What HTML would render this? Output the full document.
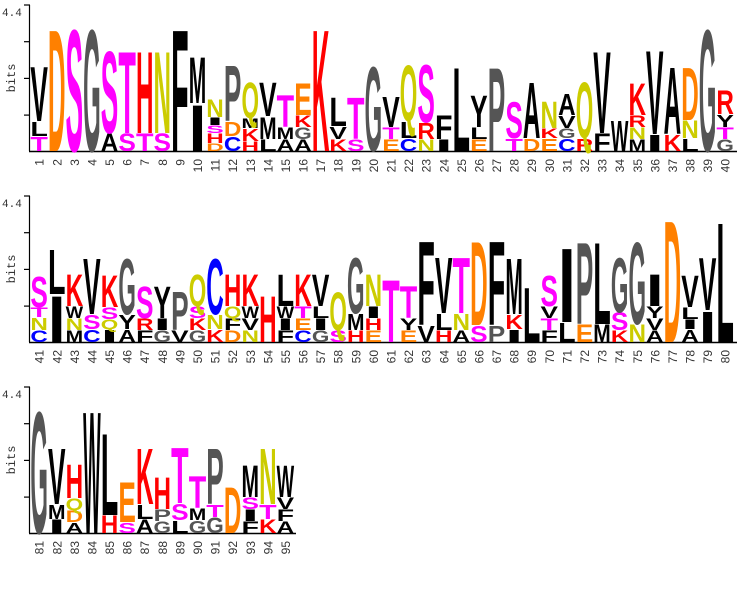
<!DOCTYPE html>
<html><head><meta charset="utf-8"><style>
html,body{margin:0;padding:0;background:#fff;}
svg{display:block;}
</style></head><body>
<svg id="s" width="737" height="599" xmlns="http://www.w3.org/2000/svg"></svg>
<script>
(function(){
var D=[
"T15 L15 V57","D127","S127","G127","A18 S85","S18 T85","T18 H85","S18 N85","F127","I48 M48",
"D8 H10 S8 I8 N18","C15 D15 P58","H10 K13 M10 Q37","L12 M23 V35","A12 M12 T33","A12 G12 K12 E33","K127","K12 V13 L30","S12 T43","G88",
"E12 T12 V32","C13 L17 Q58","N12 R17 S60","I12 F25","L87","E12 L12 Y33","P87","T13 S38","D13 A58","E13 K10 N28",
"C13 G10 V13 A22","R13 Q58","F18 V85","W32","M12 N12 R12 K33","I17 V87","K17 A70","L13 N18 D55","G127","G12 T12 Y13 R25",
"C12 N13 T10 S32","I48 L47","M12 N12 W12 K33","C13 S15 V58","I13 Q10 S12 K33","A13 Y15 G58","F12 R12 S33","G12 I12 Y33","V12 P40","G12 K12 S12 Q33",
"K13 N15 C58","D12 F12 Q12 H33","N12 V12 W12 K33","H48","F12 I12 W12 L33","C12 E12 T12 K33","G12 I12 L12 V33","S12 Q40","H12 M17 G58","E12 H12 I12 N33",
"T65","E12 Y12 T33","V17 F87","H12 L17 V58","A12 N17 T58","S17 D87","P17 F87","I13 K15 M58","L57","F12 T12 V12 S32",
"L20 I77","E18 P85","M18 L85","K12 S18 G57","N18 G85","A12 V12 Y12 I33","D127","A13 I10 L12 V33","I32 V55","L125",
"G127","I14 M15 V58","A11 D12 Q12 H35","W127","H18 L85","S11 E42","A14 L15 K58","G12 P12 H33","L13 S17 T58","G13 M12 T33",
"G16 T13 P58","D48","F12 I12 S12 M33","K14 T15 N58","A12 F12 V12 W33"];
var C={D:"#ff8000",E:"#ff8000",S:"#ff00ff",T:"#ff00ff",H:"#ff0000",K:"#ff0000",R:"#ff0000",N:"#cccc00",Q:"#cccc00",G:"#555555",P:"#555555",C:"#0000ff"};
var h='';
var bases=[151,342,533];
for(var r=0;r<3;r++){
 var b=bases[r],tp=b-146;
 var n=r<2?40:15;
 var xe=r<2?737:296;
 h+='<line x1="29.5" y1="'+tp+'" x2="29.5" y2="'+b+'" stroke="#000" stroke-width="1.2"/>';
 h+='<line x1="29" y1="'+(b+0.5)+'" x2="'+xe+'" y2="'+(b+0.5)+'" stroke="#000" stroke-width="1.4"/>';
 for(var k=0;k<4;k++){var ty=tp+k*36.7;h+='<line x1="24" y1="'+ty+'" x2="30" y2="'+ty+'" stroke="#000" stroke-width="1.2"/>';}
 h+='<text x="2" y="'+(tp+11)+'" font-family="Liberation Mono,monospace" font-size="11" fill="#333">4.4</text>';
 h+='<text transform="translate(15,'+(b-73)+') rotate(-90)" text-anchor="middle" font-family="Liberation Mono,monospace" font-size="12" fill="#333">bits</text>';
 for(var i=0;i<n;i++){
  var idx=r*40+i, x0=30.4+i*17.59;
  var parts=D[idx].split(' '), y=b;
  for(var p=0;p<parts.length;p++){
   var L=parts[p][0], ht=parseFloat(parts[p].slice(1));
   var col=C[L]||"#000";
   h+='<text transform="translate('+x0.toFixed(2)+','+y.toFixed(2)+') scale('+(17.5/100).toFixed(4)+','+(ht/72.9).toFixed(4)+')" textLength="100" lengthAdjust="spacingAndGlyphs" font-family="Liberation Sans,sans-serif" font-weight="bold" font-size="100" fill="'+col+'">'+L+'</text>';
   y-=ht;
  }
  var cx=x0+8.8+4.5;
  h+='<text transform="translate('+cx.toFixed(2)+','+(b+8)+') rotate(-90)" text-anchor="end" font-family="Liberation Sans,sans-serif" font-size="12" fill="#333">'+(idx+1)+'</text>';
 }
}
document.getElementById('s').innerHTML=h;
})();
</script>
</body></html>
